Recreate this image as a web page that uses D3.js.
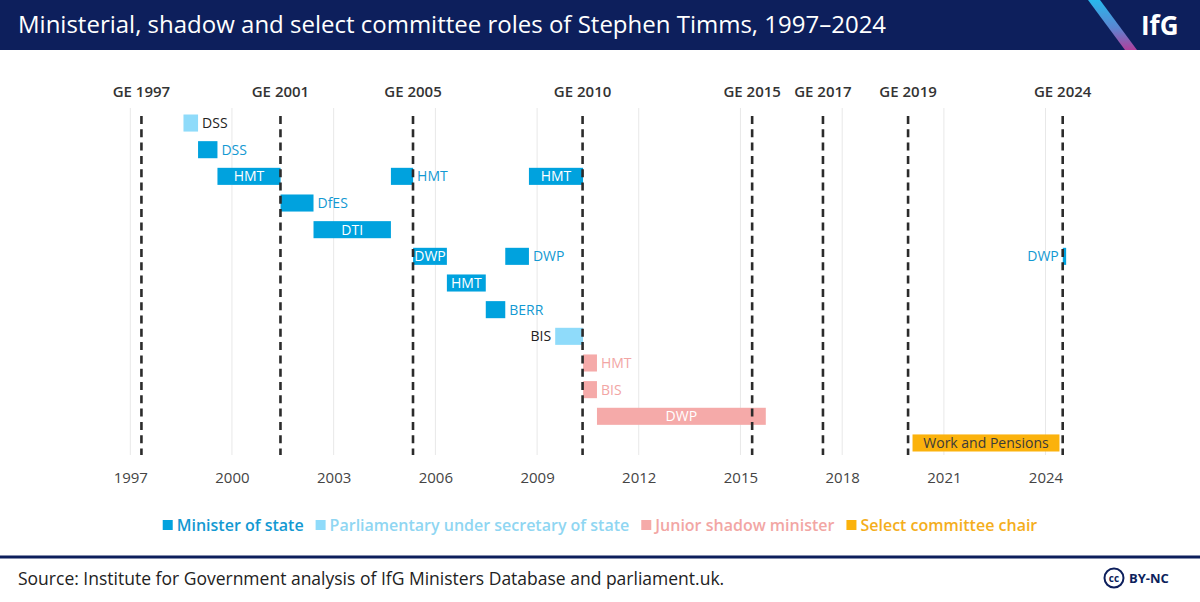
<!DOCTYPE html>
<html>
<head>
<meta charset="utf-8">
<script src="https://cdn.jsdelivr.net/npm/d3@7"></script>
<style>
  body { margin: 0; background: #fff; }
  svg { display: block; font-family: "Open Sans", "Noto Sans", sans-serif; }
</style>
</head>
<body>
<svg id="chart" width="1200" height="602"></svg>
<script>
const title = "Ministerial, shadow and select committee roles of Stephen Timms, 1997–2024";
const source = "Source: Institute for Government analysis of IfG Ministers Database and parliament.uk.";

const roleTypes = [
  "Minister of state",
  "Parliamentary under secretary of state",
  "Junior shadow minister",
  "Select committee chair"
];
const typeColours = ["#00a2de", "#8fdbfa", "#f5aaa9", "#fbb20c"];
const typeTextColours = ["#1399d2", "#8fd6f2", "#f2a6a4", "#f4ae1c"];

// one entry per role, rows run top to bottom
const roleRow   = [0, 1, 2, 2, 2, 3, 4, 5, 5, 5, 6, 7, 8, 9, 10, 11, 12];
const roleDept  = ["DSS", "DSS", "HMT", "HMT", "HMT", "DfES", "DTI", "DWP", "DWP", "DWP",
                   "HMT", "BERR", "BIS", "HMT", "BIS", "DWP", "Work and Pensions"];
const roleType  = [1, 0, 0, 0, 0, 0, 0, 0, 0, 0, 0, 0, 1, 2, 2, 2, 3];
const roleStart = ["1998-07-28", "1999-01-01", "1999-07-29", "2004-09-09", "2008-10-05",
                   "2001-06-08", "2002-05-29", "2005-05-06", "2008-01-24", "2024-07-05",
                   "2006-05-05", "2007-06-28", "2009-07-15", "2010-05-12", "2010-05-12",
                   "2010-10-08", "2020-01-29"];
const roleEnd   = ["1999-01-01", "1999-07-29", "2001-06-08", "2005-05-06", "2010-05-11",
                   "2002-05-29", "2004-09-09", "2006-05-05", "2008-10-05", "2024-08-10",
                   "2007-06-28", "2008-01-24", "2010-05-11", "2010-10-08", "2010-10-08",
                   "2015-10-01", "2024-05-30"];
const labelPlace = ["right", "right", "in", "right", "in", "right", "in", "in", "right", "left",
                    "in", "right", "left", "right", "right", "in", "in"];

const elections = ["1997-05-01", "2001-06-07", "2005-05-05", "2010-05-06",
                   "2015-05-07", "2017-06-08", "2019-12-12", "2024-07-04"];
const tickYears = [1997, 2000, 2003, 2006, 2009, 2012, 2015, 2018, 2021, 2024];

const parse = d3.timeParse("%Y-%m-%d");
const roles = roleRow.map((row, i) => ({
  row,
  dept: roleDept[i],
  type: roleType[i],
  start: parse(roleStart[i]),
  end: parse(roleEnd[i]),
  place: labelPlace[i]
}));

const svg = d3.select('#chart');
const width = 1200;
const navy = "#0d1f5c";

// header
svg.append('rect').attr('width', width).attr('height', 50).attr('fill', navy);
const defs = svg.append('defs');
const grad = defs.append('linearGradient').attr('id', 'stripe')
  .attr('x1', 0).attr('y1', 0).attr('x2', 0).attr('y2', 1);
grad.append('stop').attr('offset', '0%').attr('stop-color', '#27b8ec');
grad.append('stop').attr('offset', '55%').attr('stop-color', '#5a86d2');
grad.append('stop').attr('offset', '100%').attr('stop-color', '#b0409c');
svg.append('polygon')
  .attr('points', '1088,0 1100,0 1137,50 1125,50')
  .attr('fill', 'url(#stripe)');
svg.append('text')
  .attr('x', 1141).attr('y', 35)
  .attr('fill', '#fff').attr('font-size', 26).attr('font-weight', 700)
  .text('IfG');
svg.append('text')
  .attr('x', 18).attr('y', 33)
  .attr('fill', '#fff').attr('font-size', 24)
  .text(title);

// scales
const x = d3.scaleTime()
  .domain([new Date(1997, 0, 1), new Date(2025, 0, 1)])
  .range([130.3, 130.3 + 28 * 33.9]);

const y = d3.scaleBand()
  .domain(d3.range(d3.max(roleRow) + 1))
  .range([109.7, 456.3])
  .paddingInner(0.36)
  .paddingOuter(0.18);

const plotTop = 108, plotBottom = 455;
const g = svg.append('g');

// year gridlines
g.selectAll('line.grid').data(tickYears)
  .join('line')
  .attr('class', 'grid')
  .attr('x1', d => x(new Date(d, 0, 1)))
  .attr('x2', d => x(new Date(d, 0, 1)))
  .attr('y1', plotTop).attr('y2', plotBottom)
  .attr('stroke', '#e8e8e8').attr('stroke-width', 1);

// x axis labels
const xAxisG = g.append('g')
  .attr('transform', `translate(0,${plotBottom})`)
  .call(d3.axisBottom(x)
    .tickValues(tickYears.map(d => new Date(d, 0, 1)))
    .tickFormat(d3.timeFormat('%Y'))
    .tickSize(0)
    .tickPadding(17));
xAxisG.select('.domain').remove();
xAxisG.selectAll('text')
  .attr('font-family', '"Open Sans", sans-serif')
  .attr('font-size', 15)
  .attr('fill', '#444');

// bars
g.selectAll('rect.role').data(roles)
  .join('rect')
  .attr('class', 'role')
  .attr('x', d => x(d.start))
  .attr('y', d => y(d.row))
  .attr('width', d => Math.max(1, x(d.end) - x(d.start)))
  .attr('height', y.bandwidth())
  .attr('fill', d => typeColours[d.type]);

// general election lines
const geDates = elections.map(parse);
g.selectAll('line.ge').data(geDates)
  .join('line')
  .attr('class', 'ge')
  .attr('x1', d => x(d)).attr('x2', d => x(d))
  .attr('y1', 116).attr('y2', plotBottom)
  .attr('stroke', '#2b2b2b').attr('stroke-width', 2.6)
  .attr('stroke-dasharray', '8,5.3');

g.selectAll('text.ge').data(geDates)
  .join('text')
  .attr('class', 'ge')
  .attr('x', d => x(d))
  .attr('y', 97)
  .attr('text-anchor', 'middle')
  .attr('font-size', 15).attr('font-weight', 600)
  .attr('fill', '#333')
  .text(d => `GE ${d.getFullYear()}`);

// bar labels
const labelColour = d => {
  if (d.place === 'in') return d.type === 3 ? '#3a3a3a' : '#fff';
  return d.type === 1 ? '#222' : typeTextColours[d.type];
};
g.selectAll('text.role').data(roles)
  .join('text')
  .attr('class', 'role')
  .attr('x', d => d.place === 'in' ? (x(d.start) + x(d.end)) / 2
    : d.place === 'right' ? x(d.end) + 4 : x(d.start) - 4)
  .attr('y', d => y(d.row) + y.bandwidth() / 2)
  .attr('dy', '0.35em')
  .attr('text-anchor', d => d.place === 'in' ? 'middle' : d.place === 'right' ? 'start' : 'end')
  .attr('font-size', 14).attr('font-weight', 500)
  .attr('fill', labelColour)
  .text(d => d.dept);

// legend
const legend = svg.append('g');
const items = legend.selectAll('g').data(roleTypes).join('g');
items.append('rect')
  .attr('width', 10).attr('height', 10)
  .attr('y', -5)
  .attr('fill', (_, i) => typeColours[i]);
items.append('text')
  .attr('x', 14).attr('dy', '0.35em')
  .attr('font-size', 16).attr('font-weight', 600)
  .attr('fill', (_, i) => typeTextColours[i])
  .text(d => d);
const itemWidths = [];
items.each(function() {
  const w = 14 + this.querySelector('text').getComputedTextLength();
  itemWidths.push(w);
});
const gap = 12;
const total = d3.sum(itemWidths) + gap * (itemWidths.length - 1);
let lx = (width - total) / 2;
items.attr('transform', (_, i) => {
  const t = `translate(${lx},525)`;
  lx += itemWidths[i] + gap;
  return t;
});

// footer
svg.append('line')
  .attr('x1', 0).attr('x2', width)
  .attr('y1', 557).attr('y2', 557)
  .attr('stroke', navy).attr('stroke-width', 3);
svg.append('text')
  .attr('x', 18).attr('y', 585)
  .attr('font-size', 17.5).attr('fill', '#222')
  .text(source);
svg.append('circle')
  .attr('cx', 1114).attr('cy', 578).attr('r', 9.5)
  .attr('fill', 'none').attr('stroke', navy).attr('stroke-width', 2);
svg.append('text')
  .attr('x', 1114).attr('y', 578).attr('dy', '0.35em')
  .attr('text-anchor', 'middle')
  .attr('font-size', 10).attr('font-weight', 700).attr('fill', navy)
  .text('cc');
svg.append('text')
  .attr('x', 1129).attr('y', 583)
  .attr('font-size', 13).attr('font-weight', 700).attr('fill', navy)
  .text('BY-NC');
</script>
</body>
</html>
